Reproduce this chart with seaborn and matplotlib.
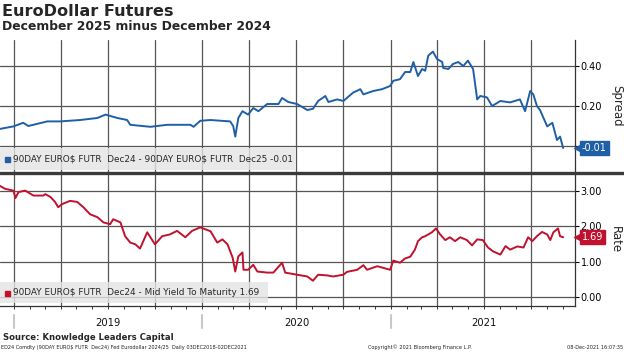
import matplotlib
matplotlib.use('Agg')
import matplotlib.pyplot as plt
import matplotlib.dates as mdates
import pandas as pd
import seaborn as sns

# spread Dec24 - Dec25
spread_dates = ['2018-12-03', '2018-12-30', '2019-01-18', '2019-01-28', '2019-03-06', '2019-03-31',
                '2019-05-09', '2019-06-11', '2019-06-27', '2019-07-20', '2019-08-08', '2019-08-14',
                '2019-09-22', '2019-10-25', '2019-12-09', '2019-12-15', '2019-12-28', '2020-01-17',
                '2020-02-24', '2020-03-01', '2020-03-05', '2020-03-11', '2020-03-19', '2020-03-30',
                '2020-04-09', '2020-04-19', '2020-05-06', '2020-05-28', '2020-06-04', '2020-06-16',
                '2020-07-03', '2020-07-23', '2020-08-03', '2020-08-13', '2020-08-27', '2020-09-02',
                '2020-09-19', '2020-10-01', '2020-10-20', '2020-11-03', '2020-11-09', '2020-11-28',
                '2020-12-15', '2020-12-31', '2021-01-06', '2021-01-19', '2021-01-29', '2021-02-08',
                '2021-02-14', '2021-02-23', '2021-03-03', '2021-03-09', '2021-03-15', '2021-03-24',
                '2021-04-01', '2021-04-11', '2021-04-13', '2021-04-23', '2021-05-02', '2021-05-12',
                '2021-05-22', '2021-05-31', '2021-06-10', '2021-06-18', '2021-06-24', '2021-07-07',
                '2021-07-17', '2021-08-02', '2021-08-21', '2021-09-09', '2021-09-19', '2021-09-29',
                '2021-10-05', '2021-10-12', '2021-10-18', '2021-11-01', '2021-11-11', '2021-11-20',
                '2021-11-26', '2021-12-02']
spread_vals = [0.085, 0.098, 0.116, 0.100, 0.123, 0.123,
               0.130, 0.140, 0.157, 0.140, 0.130, 0.106,
               0.096, 0.106, 0.106, 0.096, 0.126, 0.130,
               0.123, 0.100, 0.047, 0.140, 0.174, 0.157,
               0.190, 0.174, 0.210, 0.210, 0.240, 0.220,
               0.210, 0.180, 0.186, 0.225, 0.250, 0.220,
               0.233, 0.225, 0.267, 0.284, 0.258, 0.275,
               0.284, 0.300, 0.326, 0.334, 0.370, 0.370,
               0.420, 0.350, 0.385, 0.376, 0.452, 0.472,
               0.435, 0.420, 0.390, 0.385, 0.410, 0.420,
               0.400, 0.427, 0.385, 0.233, 0.250, 0.243,
               0.200, 0.225, 0.218, 0.233, 0.174, 0.275,
               0.258, 0.200, 0.180, 0.098, 0.116, 0.030,
               0.047, -0.010]

# Dec24 mid yield to maturity
rate_dates = ['2018-12-03', '2018-12-14', '2018-12-30', '2019-01-03', '2019-01-09', '2019-01-22',
              '2019-02-07', '2019-02-26', '2019-03-02', '2019-03-12', '2019-03-21', '2019-03-27',
              '2019-04-04', '2019-04-19', '2019-05-03', '2019-05-15', '2019-05-28', '2019-06-11',
              '2019-06-23', '2019-07-06', '2019-07-12', '2019-07-26', '2019-08-04', '2019-08-14',
              '2019-08-24', '2019-09-02', '2019-09-16', '2019-10-01', '2019-10-15', '2019-10-30',
              '2019-11-13', '2019-11-29', '2019-12-12', '2019-12-28', '2020-01-17', '2020-01-30',
              '2020-02-09', '2020-02-19', '2020-02-29', '2020-03-05', '2020-03-11', '2020-03-19',
              '2020-03-21', '2020-03-30', '2020-04-09', '2020-04-17', '2020-05-06', '2020-05-18',
              '2020-06-04', '2020-06-10', '2020-07-03', '2020-07-23', '2020-08-03', '2020-08-13',
              '2020-08-31', '2020-09-11', '2020-10-01', '2020-10-08', '2020-10-28', '2020-11-09',
              '2020-11-16', '2020-12-06', '2020-12-31', '2021-01-06', '2021-01-19', '2021-01-29',
              '2021-02-08', '2021-02-17', '2021-02-23', '2021-03-03', '2021-03-09', '2021-03-15',
              '2021-03-22', '2021-03-30', '2021-04-07', '2021-04-17', '2021-04-26', '2021-05-06',
              '2021-05-16', '2021-05-29', '2021-06-08', '2021-06-18', '2021-06-29', '2021-07-09',
              '2021-07-19', '2021-08-02', '2021-08-12', '2021-08-21', '2021-09-04', '2021-09-16',
              '2021-09-25', '2021-10-03', '2021-10-12', '2021-10-22', '2021-11-01', '2021-11-07',
              '2021-11-13', '2021-11-22', '2021-11-26', '2021-12-02']
rate_vals = [3.15, 3.06, 3.01, 2.80, 2.97, 3.01,
             2.87, 2.87, 2.91, 2.83, 2.69, 2.54,
             2.63, 2.72, 2.69, 2.54, 2.34, 2.26,
             2.11, 2.06, 2.20, 2.11, 1.72, 1.54,
             1.49, 1.37, 1.83, 1.49, 1.72, 1.77,
             1.87, 1.69, 1.87, 1.97, 1.86, 1.54,
             1.63, 1.49, 1.11, 0.72, 1.15, 1.26,
             0.77, 0.77, 0.91, 0.72, 0.69, 0.69,
             0.97, 0.69, 0.63, 0.58, 0.46, 0.63,
             0.61, 0.58, 0.63, 0.71, 0.77, 0.90,
             0.77, 0.87, 0.77, 1.03, 0.97, 1.09,
             1.14, 1.34, 1.58, 1.69, 1.72, 1.77,
             1.83, 1.94, 1.77, 1.61, 1.69, 1.58,
             1.69, 1.61, 1.46, 1.63, 1.61, 1.40,
             1.29, 1.20, 1.44, 1.34, 1.43, 1.40,
             1.69, 1.58, 1.72, 1.84, 1.77, 1.61,
             1.83, 1.94, 1.72, 1.69]

spread_ticks = [0.0, 0.2, 0.4]
spread_ticklabels = ['', '0.20', '0.40']
rate_ticks = [0.0, 1.0, 2.0, 3.0]
rate_ticklabels = ['0.00', '1.00', '2.00', '3.00']
year_labels = ['2019', '2020', '2021']
last_spread = '-0.01'
last_rate = '1.69'
spread_legend = '90DAY EURO$ FUTR  Dec24 - 90DAY EURO$ FUTR  Dec25 -0.01'
rate_legend = '90DAY EURO$ FUTR  Dec24 - Mid Yield To Maturity 1.69'

BLUE = '#1f5fa6'
RED = '#c0112e'
GRID = '#555555'

df_s = pd.DataFrame({'date': pd.to_datetime(spread_dates), 'value': spread_vals})
df_r = pd.DataFrame({'date': pd.to_datetime(rate_dates), 'value': rate_vals})

sns.set_theme(style='white')
plt.rcParams['font.family'] = ['DejaVu Sans']

W, H = 624, 352
fig = plt.figure(figsize=(W / 100, H / 100), dpi=100)


def box(top, bottom):
    return [0, 1 - bottom / H, 575 / W, (bottom - top) / H]


ax1 = fig.add_axes(box(40, 172))
ax2 = fig.add_axes(box(174, 306))

sns.lineplot(data=df_s, x='date', y='value', ax=ax1, color=BLUE, lw=1.4)
sns.lineplot(data=df_r, x='date', y='value', ax=ax2, color=RED, lw=1.4)

xmin, xmax = pd.Timestamp('2018-12-04'), pd.Timestamp('2021-12-25')
for ax in (ax1, ax2):
    ax.set_xlim(xmin, xmax)
    ax.set_xlabel('')
    ax.set_ylabel('')
    ax.xaxis.set_major_locator(mdates.MonthLocator(bymonth=[1, 4, 7, 10]))
    ax.xaxis.set_minor_locator(mdates.MonthLocator())
    ax.grid(True, which='major', color=GRID, lw=0.9)
    ax.set_axisbelow(True)
    ax.yaxis.tick_right()
    ax.tick_params(axis='y', which='major', right=True, left=False, labelright=True, labelleft=False,
                   labelsize=7, length=3, width=0.8, pad=1, colors='black', direction='out')
    ax.tick_params(axis='x', labelbottom=False)
    for s in ('left', 'top'):
        ax.spines[s].set_visible(False)
    ax.spines['right'].set_color('#333333')
    ax.spines['right'].set_linewidth(0.9)

ax1.spines['bottom'].set_visible(False)
ax1.tick_params(axis='x', which='both', bottom=False)
ax2.spines['bottom'].set_color('#333333')
ax2.spines['bottom'].set_linewidth(0.9)
ax2.tick_params(axis='x', which='both', bottom=True, length=2.5, width=0.7, color='#333333', direction='out')

ax1.set_ylim(-0.13, 0.53)
ax1.set_yticks(spread_ticks)
ax1.set_yticklabels(spread_ticklabels)
ax2.set_ylim(-0.255, 3.48)
ax2.set_yticks(rate_ticks)
ax2.set_yticklabels(rate_ticklabels)

ax1.text(1.073, 0.5, 'Spread', rotation=270, ha='center', va='center', fontsize=8.5, transform=ax1.transAxes)
ax2.text(1.071, 0.5, 'Rate', rotation=270, ha='center', va='center', fontsize=8.5, transform=ax2.transAxes)


def tag(ax, y, text, color):
    tr = ax.get_yaxis_transform()
    ax.plot([1.004], [y], marker='<', ms=4.5, color=color, transform=tr, clip_on=False, zorder=6)
    ax.text(1.012, y, text, transform=tr, ha='left', va='center', color='white', fontsize=7,
            bbox=dict(boxstyle='square,pad=0.22', fc=color, ec=color), clip_on=False, zorder=7)


tag(ax1, spread_vals[-1], last_spread, BLUE)
tag(ax2, rate_vals[-1], last_rate, RED)


def legend_box(ax, x1, y0, y1, text, color):
    ax.add_patch(plt.Rectangle((0, y0), x1, y1 - y0, transform=ax.transAxes, fc='#e4e4e4',
                               ec='none', alpha=0.8, zorder=4))
    ym = (y0 + y1) / 2
    ax.plot([0.012], [ym], marker='s', ms=3.6, color=color, transform=ax.transAxes, zorder=5, clip_on=False)
    ax.text(0.022, ym, text, transform=ax.transAxes, ha='left', va='center', fontsize=6.4, zorder=5,
            parse_math=False)


legend_box(ax1, 295 / 575, 0.015, 0.18, spread_legend, BLUE)
legend_box(ax2, 268 / 575, 0.023, 0.18, rate_legend, RED)

# year strip under the lower panel
xtr = ax2.get_xaxis_transform()
for i, yr in enumerate(year_labels):
    start = pd.Timestamp(f'{yr}-01-01')
    ax2.plot([start, start], [-0.07, -0.17], color='#c8c8c8', lw=1.5, transform=xtr, clip_on=False)
    ax2.text(pd.Timestamp(f'{yr}-07-02'), -0.13, yr, transform=xtr, ha='center', va='center',
             fontsize=7.2, color='#111111')

# separator between the panels
fig.add_artist(plt.Line2D([0, 1], [1 - 173 / H, 1 - 173 / H], color='#3a3a3a', lw=2.4))

fig.text(2 / W, 1 - 12 / H, 'EuroDollar Futures', fontsize=11.6, fontweight='bold', va='center', ha='left')
fig.text(2 / W, 1 - 27 / H, 'December 2025 minus December 2024', fontsize=8.9, fontweight='bold',
         va='center', ha='left')
fig.text(3 / W, 1 - 338 / H, 'Source: Knowledge Leaders Capital', fontsize=6.1, fontweight='bold',
         va='center', ha='left')
fig.text(1 / W, 1 - 347.5 / H, 'ED24 Comdty (90DAY EURO$ FUTR  Dec24) Fed Eurodollar 2024/25  Daily 03DEC2018-02DEC2021',
         fontsize=3.6, va='center', ha='left', color='#222222', parse_math=False)
fig.text(420 / W, 1 - 347.5 / H, 'Copyright\u00a9 2021 Bloomberg Finance L.P.', fontsize=3.6, va='center',
         ha='center', color='#222222')
fig.text(623 / W, 1 - 347.5 / H, '08-Dec-2021 16:07:35', fontsize=3.6, va='center', ha='right', color='#222222')

fig.savefig('out.png', dpi=100, facecolor='white')
